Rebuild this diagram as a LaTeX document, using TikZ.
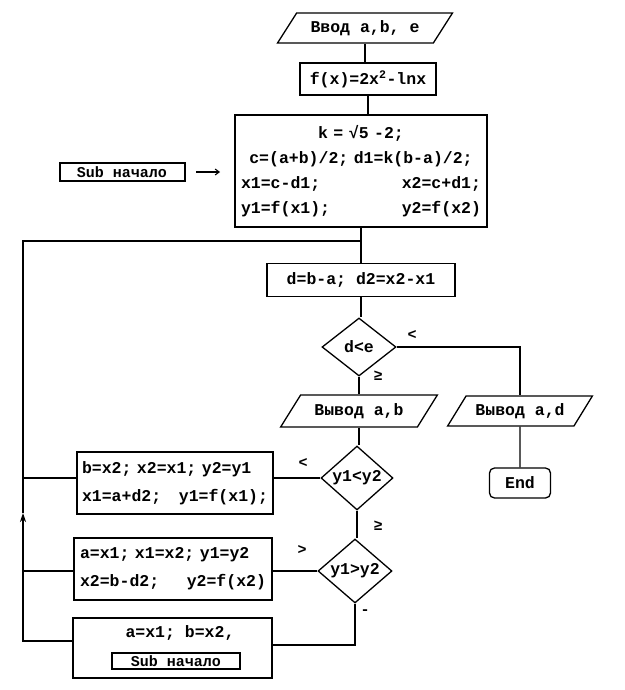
\documentclass[tikz,border=0pt]{standalone}
\usepackage{fontspec}
\setmainfont{Liberation Mono}
\usetikzlibrary{shapes.geometric,arrows.meta}
\begin{document}
\begin{tikzpicture}[x=1pt,y=-1pt,
  every node/.style={font=\fontsize{16.5}{25}\selectfont\bfseries, inner sep=0pt},
  ln/.style={line width=1.1pt},
  blk/.style={draw, line width=1.5pt, rectangle},
  io/.style={draw, line width=1.3pt, trapezium, trapezium left angle=45, trapezium right angle=135, trapezium stretches=true},
  dec/.style={draw, line width=1.3pt, diamond, minimum width=74, minimum height=58},
  lbl/.style={font=\fontsize{15}{15}\selectfont\bfseries},
  subbox/.style={draw, line width=2pt, font=\fontsize{15}{15}\selectfont\bfseries},
  twoline/.style={font=\fontsize{16.5}{28}\selectfont\bfseries, text width=186, align=left}]
\fill[white] (0,0) rectangle (624,690);
\useasboundingbox (0,0) rectangle (624,690);

\node[io, minimum width=175, minimum height=30] (in) at (365,28) {Ввод a,b, e};
\node[blk, minimum width=136, minimum height=32] (fx) at (368,79) {f(x)=2x\textsuperscript{2}-lnx};
\node[blk, minimum width=252, minimum height=112, text width=240, align=center] (init) at (361,171)
  {k = √5 -2;\\ c=(a+b)/2; d1=k(b-a)/2;\\ x1=c-d1;\hfill x2=c+d1;\\ y1=f(x1);\hfill y2=f(x2)};
\node[subbox, minimum width=125, minimum height=18] (sub1) at (122,172) {Sub начало};
\coordinate (ar1) at (196,172);
\coordinate (ar2) at (220,172);
\draw[ln,-{Straight Barb[length=4pt,width=6pt]}] (ar1) -- (ar2);

\node[blk, minimum width=188, minimum height=33] (dbox) at (361,280) {d=b-a; d2=x2-x1};
\node[dec] (dle) at (359,347) {d<e};
\node[io, minimum width=157, minimum height=32] (out1) at (359,411) {Вывод a,b};
\node[io, minimum width=145, minimum height=30] (out2) at (520,411) {Вывод a,d};
\node[draw, rounded corners=5pt, line width=1.3pt, minimum width=61, minimum height=30] (end) at (520,483) {End};
\node[dec, minimum width=72] (c1) at (357,478) {y1<y2};
\node[dec, minimum height=56] (c2) at (355,571) {y1>y2};

\node[blk, minimum width=196, minimum height=62, twoline] (b1) at (175,483)
  {b=x2; x2=x1; y2=y1\\ x1=a+d2;\hfill y1=f(x1);};
\node[blk, minimum width=198, minimum height=62, twoline] (b2) at (173,569)
  {a=x1; x1=x2; y1=y2\\ x2=b-d2;\hfill y2=f(x2)};
\node[blk, minimum width=199, minimum height=60] (b3) at (172.5,648) {};
\node (b3t) at (180,633) {a=x1; b=x2,};
\node[subbox, minimum width=128, minimum height=16] (sub2) at (176,661) {Sub начало};

\node[lbl] (l1) at (412,335) {<};
\node[lbl] (l2) at (378,376) {≥};
\node[lbl] (l3) at (303,463) {<};
\node[lbl] (l4) at (378,526) {≥};
\node[lbl] (l5) at (302,550) {>};
\node[lbl] (l6) at (365,612) {-};

% main flow
\draw[ln] (in.south) -- (in.south |- fx.north);
\draw[ln] (fx.south) -- (fx.south |- init.north);
\draw[ln] (init.south) -- (dbox.north);
\draw[ln] (dbox.south) -- (dbox.south |- dle.north);
\draw[ln] (dle.south) -- (dle.south |- out1.north);
\draw[ln] (dle.east) -| (out2.north);
\draw[ln] (out2.south) -- (end.north);
\draw[ln] (out1.south) -- (out1.south |- c1.north);
\draw[ln] (c1.south) -- (c1.south |- c2.north);
\draw[ln] (c1.west) -- (c1.west -| b1.east);
\draw[ln] (c2.west) -- (c2.west -| b2.east);
\coordinate (cb) at (355,645);
\draw[ln] (c2.south) -- (cb) -- (cb -| b3.east);

% loop back
\coordinate (lt) at (23,241);
\coordinate (lb) at (23,641);
\coordinate (la) at (23,513);
\draw[ln] (lt |- c1.west) -- (b1.west |- c1.west);
\draw[ln] (lt |- c2.west) -- (b2.west |- c2.west);
\draw[ln,-{Stealth[length=9pt,width=6pt]}] (lb -| b3.west) -- (lb) -- (la);
\draw[ln] (la) -- (lt) -- (lt -| init.south);
\end{tikzpicture}
\end{document}
